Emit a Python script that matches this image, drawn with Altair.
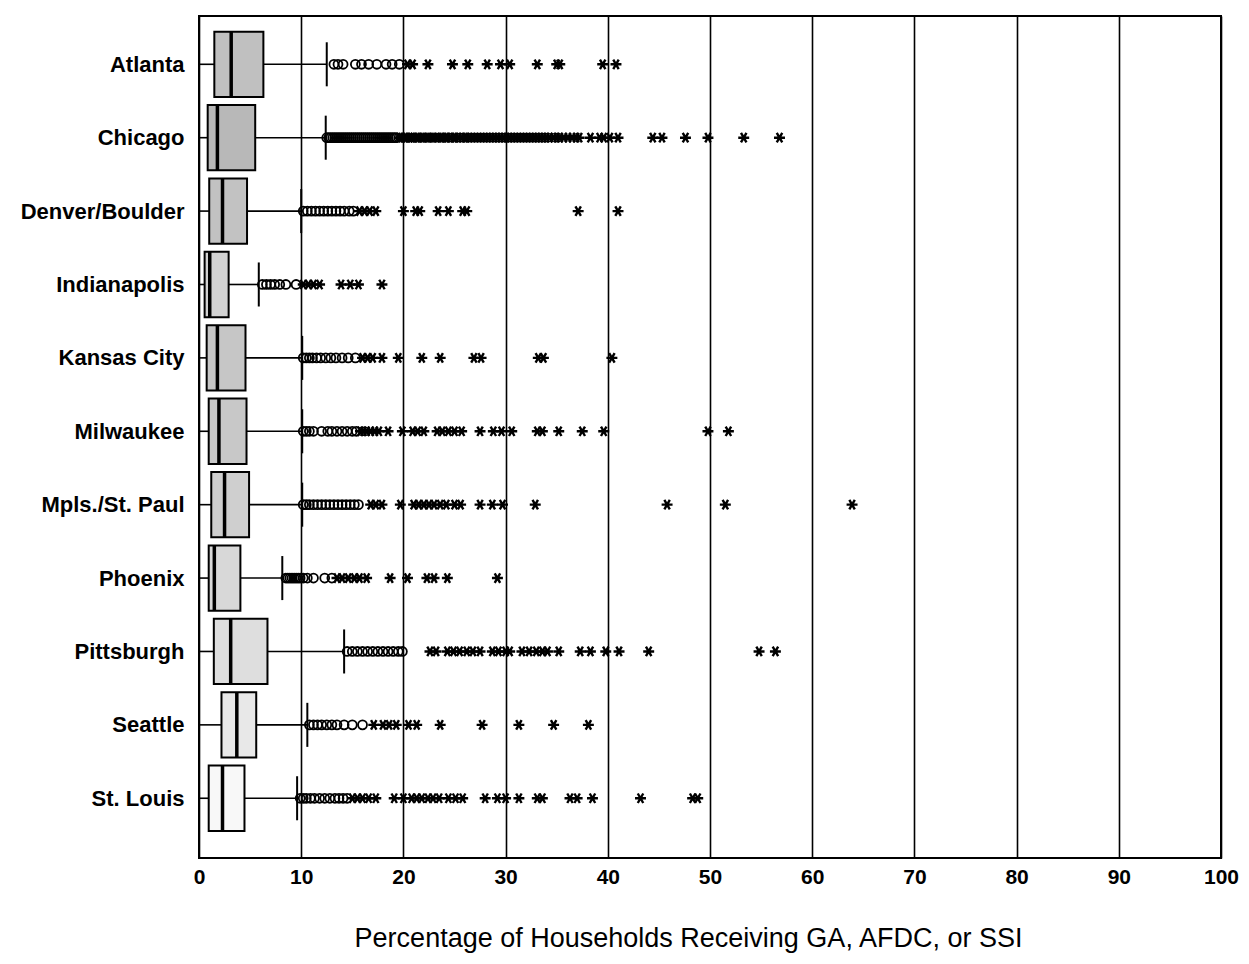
import json
import altair as alt
import pandas as pd

cities = ["Atlanta", "Chicago", "Denver/Boulder", "Indianapolis", "Kansas City",
          "Milwaukee", "Mpls./St. Paul", "Phoenix", "Pittsburgh", "Seattle", "St. Louis"]
whisker_low = [0, 0, 0, 0, 0, 0, 0, 0, 0, 0, 0]
q1 = [1.5, 0.85, 1.0, 0.55, 0.75, 0.95, 1.2, 0.95, 1.45, 2.2, 0.95]
median = [3.15, 1.8, 2.3, 1.05, 1.8, 1.95, 2.5, 1.5, 3.1, 3.7, 2.3]
q3 = [6.3, 5.5, 4.7, 2.9, 4.55, 4.65, 4.9, 4.05, 6.7, 5.6, 4.45]
whisker_high = [12.5, 12.4, 10.0, 5.85, 10.1, 10.1, 10.1, 8.15, 14.2, 10.6, 9.6]

# outliers (circles): 1.5-3 IQR beyond the box
mild_outliers = {
    "Atlanta": [13.2, 13.6, 14.1, 15.3, 15.9, 16.6, 17.4, 18.3, 18.9, 19.6],
    "Chicago": [12.5, 12.7, 12.9, 13.1, 13.3, 13.5, 13.7, 13.9, 14.1, 14.3, 14.5, 14.7,
                14.9, 15.1, 15.3, 15.5, 15.7, 15.9, 16.1, 16.3, 16.5, 16.7, 16.9, 17.1,
                17.3, 17.5, 17.7, 17.9, 18.1, 18.3, 18.5, 18.7, 18.9, 19.1, 19.3],
    "Denver/Boulder": [10.2, 10.6, 11.0, 11.4, 11.8, 12.2, 12.6, 13.0, 13.4, 13.8, 14.2, 14.7, 15.1],
    "Indianapolis": [6.2, 6.6, 7.0, 7.4, 7.9, 8.5, 9.5],
    "Kansas City": [10.2, 10.5, 10.8, 11.1, 11.5, 11.9, 12.4, 12.9, 13.4, 14.0, 14.6, 15.3],
    "Milwaukee": [10.2, 10.5, 10.8, 11.2, 12.0, 12.6, 13.0, 13.5, 14.0, 14.5, 15.0, 15.4],
    "Mpls./St. Paul": [10.2, 10.5, 10.8, 11.2, 11.6, 12.0, 12.4, 12.8, 13.2, 13.6, 14.0,
                       14.4, 14.8, 15.2, 15.6],
    "Phoenix": [8.5, 8.7, 8.9, 9.1, 9.3, 9.5, 9.7, 9.9, 10.2, 10.6, 11.2, 12.3, 13.0],
    "Pittsburgh": [14.5, 15.0, 15.5, 16.0, 16.5, 17.0, 17.5, 18.0, 18.5, 19.0, 19.5, 19.9],
    "Seattle": [10.8, 11.2, 11.6, 12.0, 12.5, 13.0, 13.5, 14.2, 15.0, 16.0],
    "St. Louis": [9.9, 10.2, 10.5, 10.9, 11.3, 11.8, 12.3, 12.8, 13.3, 13.7, 14.1, 14.5],
}

# extreme values (asterisks): more than 3 IQR beyond the box
extreme_outliers = {
    "Atlanta": [20.4, 20.9, 22.4, 24.8, 26.3, 28.2, 29.5, 30.4, 33.1, 35.0, 35.3, 39.5, 40.8],
    "Chicago": [19.6, 19.8, 20.1, 20.3, 20.6, 20.8, 21.0, 21.3, 21.5, 21.8, 22.0, 22.3,
                22.5, 22.8, 23.0, 23.3, 23.6, 23.8, 24.1, 24.3, 24.6, 24.9, 25.1, 25.4,
                25.7, 26.0, 26.2, 26.5, 26.8, 27.1, 27.4, 27.7, 28.0, 28.3, 28.6, 28.9,
                29.2, 29.5, 29.8, 30.1, 30.4, 30.7, 31.0, 31.3, 31.6, 31.9, 32.2, 32.5,
                32.8, 33.1, 33.4, 33.7, 34.0, 34.3, 34.7, 35.0, 35.3, 35.7, 36.1, 36.5,
                36.9, 37.2, 38.3, 39.2, 39.6, 40.2, 41.0, 44.4, 45.3, 47.6, 49.8, 53.3, 56.8],
    "Denver/Boulder": [15.7, 16.2, 16.7, 17.3, 20.0, 21.2, 21.6, 23.4, 24.4, 25.8, 26.2, 37.1, 41.0],
    "Indianapolis": [10.2, 10.7, 11.2, 11.8, 13.9, 14.8, 15.6, 17.9],
    "Kansas City": [16.0, 16.5, 17.0, 17.9, 19.5, 21.8, 23.6, 26.9, 27.6, 33.2, 33.7, 40.4],
    "Milwaukee": [15.8, 16.1, 16.4, 16.8, 17.2, 17.6, 18.5, 19.9, 20.9, 21.4, 22.0, 23.3,
                  23.8, 24.4, 25.0, 25.7, 27.5, 28.8, 29.6, 30.6, 33.1, 33.6, 35.2, 37.5,
                  39.6, 49.8, 51.8],
    "Mpls./St. Paul": [16.8, 17.3, 17.9, 19.7, 21.0, 21.5, 22.0, 22.5, 23.0, 23.6, 24.2,
                       25.0, 25.6, 27.5, 28.7, 29.7, 32.9, 45.8, 51.5, 63.9],
    "Phoenix": [13.5, 14.0, 14.6, 15.2, 15.7, 16.4, 18.7, 20.4, 22.3, 23.0, 24.3, 29.2],
    "Pittsburgh": [22.6, 23.2, 24.3, 24.9, 25.5, 26.2, 26.8, 27.5, 28.7, 29.3, 30.0, 30.4,
                   31.6, 32.3, 33.0, 33.6, 34.1, 35.2, 37.3, 38.3, 39.8, 41.1, 44.0, 54.8, 56.4],
    "Seattle": [17.1, 18.0, 18.6, 19.3, 20.5, 21.3, 23.6, 27.7, 31.3, 34.7, 38.1],
    "St. Louis": [15.0, 15.5, 16.0, 16.6, 17.3, 19.1, 20.0, 20.8, 21.3, 21.8, 22.4, 22.9,
                  23.5, 24.4, 25.1, 25.8, 28.0, 29.2, 30.0, 31.3, 33.1, 33.6, 36.3, 37.0,
                  38.5, 43.2, 48.3, 48.8],
}

x_title = "Percentage of Households Receiving GA, AFDC, or SSI"

# ---- tables built from the arrays above ----
boxes = pd.DataFrame({
    "city": cities, "idx": list(range(len(cities))),
    "lo": whisker_low, "q1": q1, "med": median, "q3": q3, "hi": whisker_high,
})
rows = []
for kind, src in (("mild", mild_outliers), ("extreme", extreme_outliers)):
    for c, vals in src.items():
        for v in vals:
            rows.append({"city": c, "idx": cities.index(c), "value": v, "kind": kind})
outl = pd.DataFrame(rows)

FONT = "Liberation Sans"
box_half = 0.445
cap_half = 0.3
box_fills = ["#c0c0c0", "#b8b8b8", "#c2c2c2", "#d2d2d2", "#c6c6c6", "#c8c8c8",
             "#cfcfcf", "#d8d8d8", "#dedede", "#e8e8e8", "#f8f8f8"]

label_expr = json.dumps(cities) + "[datum.value]"
yscale = alt.Scale(domain=[-0.658, 10.814], reverse=True, nice=False, zero=False)
yaxis = alt.Axis(values=list(range(len(cities))), labelExpr=label_expr, ticks=False,
                 domain=False, grid=False, labelFont=FONT, labelFontSize=22,
                 labelFontWeight="bold", labelColor="black", labelPadding=15)
xscale = alt.Scale(domain=[0, 100], nice=False, zero=False)
xaxis = alt.Axis(values=list(range(0, 101, 10)), grid=True, gridColor="black",
                 gridWidth=1.6, gridOpacity=1, ticks=False, tickSize=0, domain=False,
                 labelFont=FONT, labelFontSize=21, labelFontWeight="bold",
                 labelColor="black", labelPadding=8, labelFlush=False,
                 titleFont=FONT, titleFontSize=27, titleFontWeight="normal",
                 titleColor="black", titleX=489, titleY=88, titleAlign="center",
                 titleBaseline="alphabetic")


def Y(field):
    return alt.Y(f"{field}:Q", scale=yscale, axis=yaxis, title=None)


def X(field):
    return alt.X(f"{field}:Q", scale=xscale, axis=xaxis, title=x_title)


base_box = alt.Chart(boxes).transform_calculate(
    ylo=f"datum.idx - {box_half}", yhi=f"datum.idx + {box_half}",
    clo=f"datum.idx - {cap_half}", chi=f"datum.idx + {cap_half}",
)

whisk_lo = base_box.mark_rule(color="black", strokeWidth=1.6).encode(
    x=X("lo"), x2="q1:Q", y=Y("idx"))
whisk_hi = base_box.mark_rule(color="black", strokeWidth=1.6).encode(
    x=X("q3"), x2="hi:Q", y=Y("idx"))
cap = base_box.mark_rule(color="black", strokeWidth=2).encode(
    x=X("hi"), y=Y("clo"), y2="chi:Q")
box = base_box.mark_rect(stroke="black", strokeWidth=2).encode(
    x=X("q1"), x2="q3:Q", y=Y("ylo"), y2="yhi:Q",
    fill=alt.Fill("city:N", scale=alt.Scale(domain=cities, range=box_fills), legend=None))
med = base_box.mark_rule(color="black", strokeWidth=3.5).encode(
    x=X("med"), y=Y("ylo"), y2="yhi:Q")

mild = alt.Chart(outl).transform_filter("datum.kind == 'mild'").mark_point(
    shape="circle", filled=False, color="black", size=80, strokeWidth=1.8, opacity=1
).encode(x=X("value"), y=Y("idx"))

asterisk = "M-1,0L1,0M-0.5,-0.866L0.5,0.866M-0.5,0.866L0.5,-0.866"
extreme = alt.Chart(outl).transform_filter("datum.kind == 'extreme'").mark_point(
    shape=asterisk, filled=False, color="black", size=120, strokeWidth=2.4, opacity=1
).encode(x=X("value"), y=Y("idx"))

chart = alt.layer(whisk_lo, whisk_hi, cap, box, med, mild, extreme).properties(
    width=1022, height=842, autosize="none",
    padding={"left": 191, "top": 8, "right": 20, "bottom": 96},
    background="white",
).configure_view(stroke="black", strokeWidth=2)

chart.save("out.html", embed_options={"renderer": "svg", "actions": False})
